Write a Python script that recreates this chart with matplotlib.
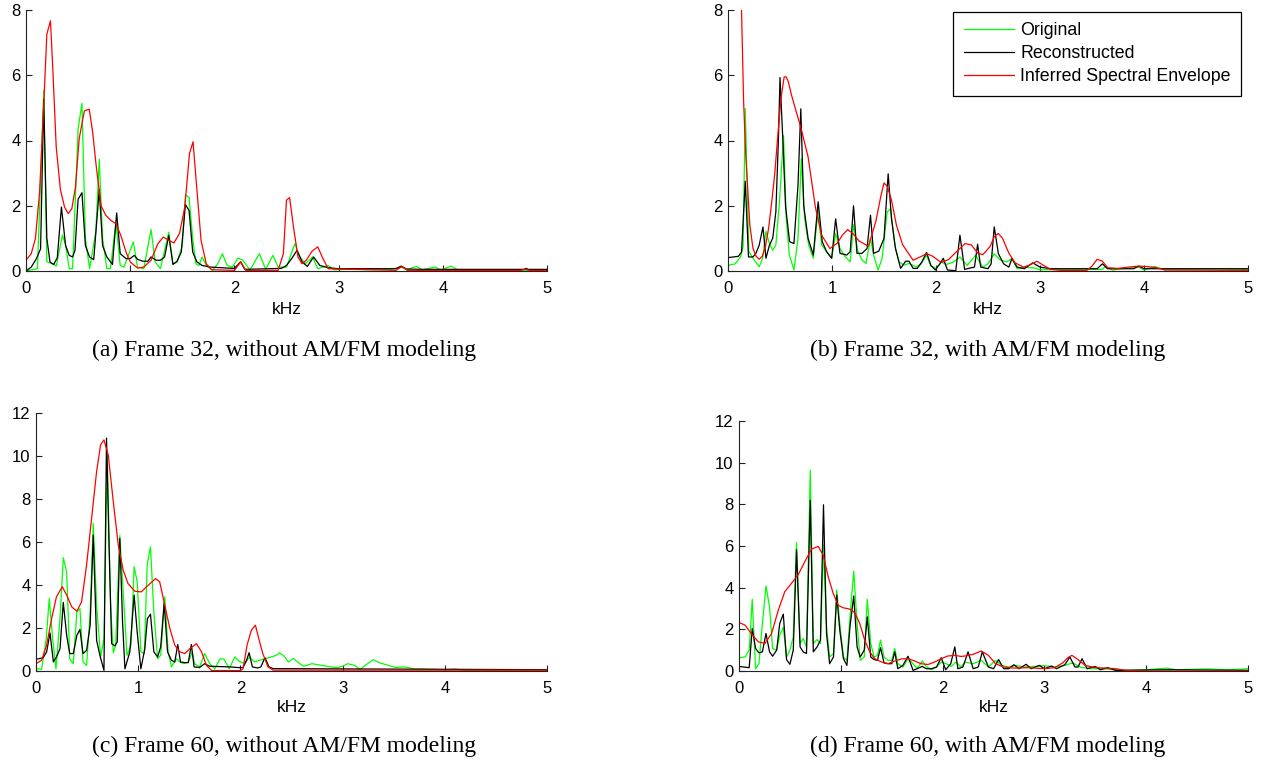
import matplotlib
matplotlib.use("Agg")
import matplotlib.pyplot as plt

# ---------------- data: (kHz, magnitude) ----------------
# (a) Frame 32, without AM/FM modeling
a_original = [(0, 0), (0.11, 0.07), (0.17, 5.53), (0.2, 0.28), (0.255, 0.22), (0.29, 0.15), (0.35, 1.1),
              (0.38, 0.8), (0.415, 0.07), (0.447, 0.07), (0.5, 4.35), (0.537, 5.14), (0.57, 1.0), (0.61, 0.07),
              (0.67, 1.2), (0.703, 3.43), (0.735, 1.0), (0.776, 0.07), (0.81, 0.07), (0.863, 1.5), (0.904, 0.17),
              (0.94, 0.12), (1.03, 0.89), (1.07, 0.12), (1.13, 0.07), (1.2, 1.27), (1.24, 0.28), (1.29, 0.07),
              (1.37, 1.19), (1.41, 0.22), (1.45, 0.27), (1.5, 0.78), (1.53, 2.33), (1.565, 2.26), (1.6, 1.0),
              (1.63, 0.22), (1.66, 0.17), (1.69, 0.43), (1.73, 0.17), (1.79, 0.02), (1.84, 0.22), (1.885, 0.53),
              (1.93, 0.17), (1.98, 0.12), (2.035, 0.4), (2.08, 0.33), (2.15, 0.03), (2.24, 0.53), (2.3, 0.05),
              (2.37, 0.48), (2.42, 0.12), (2.5, 0.12), (2.58, 0.84), (2.63, 0.43), (2.68, 0.22), (2.75, 0.43),
              (2.8, 0.07), (2.9, 0.17), (2.95, 0.04), (3.1, 0.05), (3.3, 0.04), (3.5, 0.05), (3.6, 0.12),
              (3.65, 0.04), (3.75, 0.14), (3.8, 0.04), (3.93, 0.12), (3.98, 0.03), (4.08, 0.15), (4.15, 0.02),
              (4.5, 0.02), (5.0, 0.02)]
a_reconstructed = [(0, 0), (0.05, 0.12), (0.1, 0.38), (0.14, 0.68), (0.17, 5.27), (0.2, 1.0), (0.23, 0.28),
                   (0.265, 0.2), (0.3, 0.4), (0.34, 1.96), (0.38, 0.78), (0.415, 0.48), (0.447, 0.43),
                   (0.47, 0.63), (0.5, 2.2), (0.537, 2.4), (0.57, 0.78), (0.61, 0.43), (0.65, 0.35),
                   (0.703, 2.5), (0.735, 0.78), (0.776, 0.43), (0.83, 0.2), (0.87, 1.78), (0.904, 0.53),
                   (0.96, 0.38), (1.0, 0.38), (1.04, 0.48), (1.07, 0.36), (1.12, 0.3), (1.17, 0.3), (1.2, 0.43),
                   (1.25, 0.33), (1.29, 0.33), (1.33, 0.43), (1.37, 1.09), (1.41, 0.2), (1.45, 0.3), (1.49, 0.58),
                   (1.53, 2.04), (1.565, 1.85), (1.6, 0.58), (1.64, 0.28), (1.69, 0.17), (1.77, 0.12),
                   (1.93, 0.09), (2.0, 0.08), (2.06, 0.28), (2.1, 0.05), (2.45, 0.08), (2.5, 0.17), (2.55, 0.38),
                   (2.6, 0.63), (2.65, 0.28), (2.7, 0.14), (2.76, 0.43), (2.82, 0.17), (2.9, 0.1), (3.0, 0.07),
                   (3.55, 0.07), (3.6, 0.15), (3.65, 0.06), (3.8, 0.05), (4.78, 0.05), (4.8, 0.08), (4.82, 0.05),
                   (5.0, 0.05)]
a_envelope = [(0, 0.33), (0.05, 0.53), (0.09, 0.99), (0.13, 2.4), (0.17, 5.08), (0.2, 7.26), (0.235, 7.67),
              (0.26, 6.0), (0.29, 3.8), (0.33, 2.5), (0.37, 1.96), (0.405, 1.76), (0.44, 1.91), (0.475, 2.58),
              (0.51, 4.05), (0.56, 4.91), (0.607, 4.96), (0.64, 4.25), (0.67, 3.33), (0.72, 2.0), (0.767, 1.7),
              (0.815, 1.55), (0.863, 1.45), (0.91, 1.09), (0.96, 0.58), (1.0, 0.28), (1.07, 0.09), (1.13, 0.12),
              (1.2, 0.33), (1.266, 0.84), (1.318, 1.04), (1.37, 0.94), (1.42, 0.86), (1.473, 1.15),
              (1.524, 1.96), (1.569, 3.6), (1.603, 3.96), (1.638, 2.58), (1.68, 0.94), (1.73, 0.22),
              (1.78, 0.04), (2.0, 0.02), (2.06, 0.28), (2.11, 0.02), (2.42, 0.02), (2.47, 0.53), (2.5, 2.17),
              (2.53, 2.25), (2.567, 1.35), (2.61, 0.43), (2.65, 0.22), (2.69, 0.33), (2.746, 0.61),
              (2.8, 0.74), (2.85, 0.38), (2.9, 0.07), (3.55, 0.02), (3.61, 0.14), (3.66, 0.02), (4.75, 0.02),
              (4.79, 0.06), (4.83, 0.02), (5.0, 0.02)]

# (b) Frame 32, with AM/FM modeling
b_original = [(0, 0.17), (0.07, 0.22), (0.12, 0.43), (0.145, 0.74), (0.166, 4.98), (0.2, 0.59), (0.252, 0.34),
              (0.3, 0.13), (0.333, 0.39), (0.365, 1.22), (0.398, 0.84), (0.43, 0.64), (0.46, 0.79),
              (0.495, 2.12), (0.534, 4.15), (0.56, 1.6), (0.59, 0.49), (0.634, 0.03), (0.673, 1.0),
              (0.705, 3.44), (0.737, 1.6), (0.776, 0.79), (0.82, 0.39), (0.865, 1.85), (0.9, 0.8),
              (0.948, 0.59), (0.997, 0.39), (1.035, 1.15), (1.077, 0.69), (1.126, 0.44), (1.175, 0.28),
              (1.207, 1.42), (1.25, 0.59), (1.288, 0.34), (1.327, 0.23), (1.37, 1.0), (1.4, 0.49),
              (1.443, 0.03), (1.482, 0.39), (1.53, 1.81), (1.563, 1.91), (1.605, 0.79), (1.644, 0.28),
              (1.692, 0.18), (1.74, 0.23), (1.806, 0.13), (1.854, 0.2), (1.909, 0.49), (1.95, 0.15),
              (2.0, 0.08), (2.05, 0.28), (2.097, 0.2), (2.16, 0.26), (2.23, 0.43), (2.3, 0.17), (2.38, 0.48),
              (2.45, 0.12), (2.5, 0.22), (2.56, 0.53), (2.62, 0.33), (2.68, 0.28), (2.73, 0.38), (2.78, 0.07),
              (2.85, 0.12), (2.95, 0.09), (3.0, 0.04), (3.6, 0.05), (3.62, 0.12), (3.7, 0.03), (3.78, 0.07),
              (3.9, 0.1), (3.95, 0.12), (4.0, 0.03), (4.1, 0.14), (4.2, 0.04), (4.7, 0.06), (5.0, 0.04)]
b_reconstructed = [(0, 0.41), (0.1, 0.45), (0.13, 0.58), (0.166, 2.75), (0.197, 0.43), (0.24, 0.43),
                   (0.268, 0.54), (0.3, 0.79), (0.336, 1.35), (0.365, 0.39), (0.398, 0.79), (0.43, 1.0),
                   (0.46, 1.81), (0.485, 4.05), (0.5, 5.93), (0.527, 4.05), (0.553, 2.0), (0.592, 0.9),
                   (0.634, 0.84), (0.673, 2.63), (0.7, 4.97), (0.728, 2.0), (0.77, 1.0), (0.82, 0.49),
                   (0.867, 2.12), (0.906, 0.9), (0.948, 0.59), (0.997, 0.39), (1.035, 1.6), (1.077, 0.54),
                   (1.142, 0.49), (1.175, 0.59), (1.207, 2.0), (1.24, 0.54), (1.288, 0.54), (1.337, 0.69),
                   (1.37, 1.71), (1.4, 0.54), (1.45, 0.61), (1.5, 1.0), (1.54, 2.98), (1.572, 1.6),
                   (1.61, 0.69), (1.66, 0.08), (1.708, 0.3), (1.74, 0.3), (1.78, 0.08), (1.82, 0.08),
                   (1.864, 0.28), (1.909, 0.57), (1.95, 0.18), (1.993, 0.03), (2.04, 0.23), (2.07, 0.39),
                   (2.11, 0.03), (2.19, 0.01), (2.23, 1.1), (2.275, 0.05), (2.3, 0.07), (2.37, 0.12),
                   (2.4, 0.82), (2.43, 0.12), (2.5, 0.07), (2.53, 0.22), (2.56, 1.35), (2.6, 0.53),
                   (2.65, 0.22), (2.7, 0.12), (2.73, 0.38), (2.78, 0.12), (2.85, 0.07), (2.93, 0.25),
                   (3.0, 0.12), (3.1, 0.07), (3.55, 0.07), (3.6, 0.22), (3.65, 0.07), (3.9, 0.07),
                   (3.95, 0.15), (4.0, 0.07), (5.0, 0.07)]
b_envelope = [(0, 20.0), (0.1, 12.0), (0.12, 9.0), (0.13, 8.0), (0.15, 5.2), (0.17, 3.6), (0.19, 2.5),
              (0.21, 1.4), (0.24, 0.7), (0.27, 0.45), (0.3, 0.36), (0.33, 0.45), (0.36, 0.75), (0.39, 1.3),
              (0.42, 2.1), (0.45, 3.0), (0.48, 4.2), (0.51, 5.3), (0.54, 5.95), (0.56, 5.95), (0.58, 5.8),
              (0.61, 5.4), (0.65, 4.95), (0.7, 4.4), (0.77, 3.5), (0.84, 1.96), (0.9, 1.1), (0.98, 0.69),
              (1.05, 0.85), (1.1, 1.1), (1.15, 1.27), (1.2, 1.15), (1.26, 0.92), (1.35, 0.76), (1.42, 1.5),
              (1.47, 2.3), (1.5, 2.7), (1.53, 2.6), (1.57, 2.2), (1.62, 1.4), (1.68, 0.8), (1.78, 0.33),
              (1.86, 0.45), (1.91, 0.53), (1.97, 0.45), (2.05, 0.26), (2.12, 0.35), (2.2, 0.6), (2.28, 0.84),
              (2.34, 0.8), (2.4, 0.55), (2.45, 0.5), (2.52, 0.75), (2.56, 1.05), (2.6, 1.15), (2.64, 1.0),
              (2.7, 0.55), (2.76, 0.25), (2.84, 0.12), (2.9, 0.18), (2.97, 0.3), (3.02, 0.2), (3.1, 0.05),
              (3.2, 0.02), (3.45, 0.02), (3.5, 0.15), (3.55, 0.36), (3.6, 0.3), (3.65, 0.1), (3.75, 0.08),
              (3.85, 0.12), (3.95, 0.15), (4.05, 0.13), (4.12, 0.1), (4.2, 0.03), (5.0, 0.02)]

# (c) Frame 60, without AM/FM modeling
c_original = [(0, 0.1), (0.055, 0.08), (0.1, 1.5), (0.13, 3.37), (0.163, 1.5), (0.195, 0.1), (0.235, 2.44),
              (0.267, 5.27), (0.3, 4.6), (0.33, 0.57), (0.365, 0.34), (0.4, 2.75), (0.43, 2.9), (0.46, 0.42),
              (0.495, 0.26), (0.53, 2.75), (0.56, 6.87), (0.593, 3.06), (0.632, 0.65), (0.665, 1.5),
              (0.697, 10.05), (0.73, 3.06), (0.756, 0.85), (0.78, 1.2), (0.82, 6.3), (0.853, 3.7),
              (0.89, 0.73), (0.93, 1.2), (0.96, 4.85), (0.99, 4.15), (1.026, 0.89), (1.06, 0.81),
              (1.088, 4.93), (1.12, 5.78), (1.153, 2.75), (1.19, 0.57), (1.22, 0.73), (1.26, 3.45),
              (1.293, 0.89), (1.325, 0.19), (1.375, 0.57), (1.407, 0.42), (1.446, 0.34), (1.49, 0.42),
              (1.53, 0.89), (1.55, 0.34), (1.6, 0.19), (1.65, 0.81), (1.7, 0.34), (1.75, 0.1), (1.8, 0.57),
              (1.84, 0.55), (1.89, 0.1), (1.945, 0.65), (1.99, 0.45), (2.04, 0.34), (2.09, 0.65),
              (2.14, 0.42), (2.19, 0.5), (2.25, 0.58), (2.3, 0.65), (2.35, 0.73), (2.38, 0.84), (2.42, 0.73),
              (2.47, 0.42), (2.52, 0.58), (2.58, 0.34), (2.62, 0.22), (2.7, 0.34), (2.8, 0.26), (2.88, 0.19),
              (2.95, 0.16), (3.0, 0.22), (3.05, 0.34), (3.12, 0.26), (3.17, 0.06), (3.22, 0.26), (3.3, 0.53),
              (3.37, 0.37), (3.45, 0.26), (3.52, 0.16), (3.6, 0.19), (3.7, 0.1), (3.8, 0.09), (4.0, 0.06),
              (4.1, 0.09), (4.2, 0.03), (5.0, 0.03)]
c_reconstructed = [(0, 0.54), (0.07, 0.62), (0.104, 0.89), (0.137, 1.77), (0.17, 0.42), (0.2, 0.65),
                   (0.235, 1.04), (0.267, 3.19), (0.3, 1.66), (0.33, 0.81), (0.365, 0.81), (0.4, 1.66),
                   (0.43, 1.93), (0.46, 0.81), (0.495, 0.96), (0.53, 2.13), (0.56, 6.32), (0.593, 1.43),
                   (0.625, 0.73), (0.665, 0.03), (0.69, 10.83), (0.717, 5.4), (0.74, 1.27), (0.772, 1.17),
                   (0.795, 1.35), (0.82, 6.17), (0.847, 2.28), (0.87, 0.1), (0.918, 0.89), (0.96, 3.53),
                   (0.99, 1.82), (1.026, 0.1), (1.065, 1.04), (1.09, 2.44), (1.12, 2.64), (1.153, 0.89),
                   (1.19, 0.65), (1.22, 1.12), (1.254, 3.17), (1.287, 0.89), (1.325, 0.5), (1.358, 0.42),
                   (1.387, 1.23), (1.414, 0.42), (1.456, 0.39), (1.49, 0.39), (1.52, 1.23), (1.547, 0.19),
                   (1.6, 0.16), (1.65, 0.34), (1.7, 0.22), (1.9, 0.19), (1.977, 0.16), (2.026, 0.16),
                   (2.06, 0.5), (2.085, 0.85), (2.117, 0.19), (2.17, 0.14), (2.2, 0.19), (2.24, 0.62),
                   (2.28, 0.19), (2.32, 0.11), (5.0, 0.06)]
c_envelope = [(0, 0.34), (0.055, 0.5), (0.104, 1.2), (0.153, 2.44), (0.2, 3.45), (0.257, 3.92), (0.3, 3.53),
              (0.35, 2.98), (0.4, 2.78), (0.446, 3.22), (0.495, 4.93), (0.544, 7.1), (0.593, 9.28),
              (0.632, 10.52), (0.665, 10.75), (0.707, 10.05), (0.756, 7.88), (0.805, 5.86), (0.853, 4.69),
              (0.9, 4.07), (0.967, 3.71), (1.03, 3.68), (1.098, 3.99), (1.17, 4.3), (1.21, 4.15),
              (1.26, 3.06), (1.31, 1.97), (1.358, 1.2), (1.407, 0.89), (1.456, 0.81), (1.505, 1.04),
              (1.57, 1.27), (1.62, 0.89), (1.668, 0.26), (1.717, 0.03), (1.75, 0.02), (2.0, 0.02),
              (2.026, 0.1), (2.065, 1.2), (2.107, 1.9), (2.147, 2.13), (2.18, 1.5), (2.22, 0.8),
              (2.27, 0.19), (2.32, 0.04), (5.0, 0.04)]

# (d) Frame 60, with AM/FM modeling
d_original = [(0, 0.64), (0.06, 0.67), (0.1, 1.0), (0.13, 3.44), (0.163, 0.11), (0.196, 0.35), (0.23, 2.28),
              (0.265, 4.08), (0.3, 3.08), (0.33, 1.08), (0.37, 1.0), (0.4, 1.72), (0.435, 2.09), (0.467, 0.67),
              (0.5, 1.0), (0.533, 1.64), (0.565, 6.17), (0.6, 1.32), (0.63, 1.56), (0.663, 1.16), (0.7, 9.64),
              (0.73, 1.32), (0.768, 1.51), (0.8, 1.32), (0.83, 6.06), (0.86, 2.12), (0.89, 0.67),
              (0.928, 0.84), (0.96, 3.89), (0.99, 2.28), (1.026, 0.67), (1.06, 0.51), (1.09, 2.6),
              (1.127, 4.79), (1.16, 2.28), (1.19, 0.51), (1.23, 0.67), (1.26, 3.44), (1.294, 1.32),
              (1.327, 0.67), (1.36, 0.75), (1.39, 1.48), (1.425, 0.67), (1.464, 0.51), (1.5, 0.51),
              (1.53, 1.08), (1.56, 0.35), (1.61, 0.19), (1.66, 0.59), (1.71, 0.35), (1.75, 0.11), (1.8, 0.48),
              (1.84, 0.22), (1.89, 0.06), (1.94, 0.19), (1.987, 0.43), (2.036, 0.35), (2.085, 0.22),
              (2.13, 0.43), (2.18, 0.19), (2.22, 0.43), (2.3, 0.35), (2.38, 0.51), (2.45, 0.19), (2.52, 0.51),
              (2.58, 0.27), (2.65, 0.19), (2.72, 0.27), (2.8, 0.19), (2.9, 0.22), (3.0, 0.26), (3.1, 0.19),
              (3.2, 0.27), (3.28, 0.39), (3.35, 0.19), (3.45, 0.11), (3.6, 0.1), (3.7, 0.06), (3.8, 0.03),
              (4.0, 0.06), (4.1, 0.1), (4.2, 0.14), (4.3, 0.06), (4.6, 0.1), (4.8, 0.06), (5.0, 0.11)]
d_reconstructed = [(0, 0.22), (0.1, 0.16), (0.13, 2.04), (0.163, 1.08), (0.196, 0.87), (0.23, 0.92),
                   (0.265, 1.8), (0.3, 0.92), (0.33, 0.71), (0.37, 1.0), (0.4, 2.28), (0.435, 2.73),
                   (0.467, 0.55), (0.5, 0.32), (0.533, 1.0), (0.565, 5.82), (0.6, 1.16), (0.63, 0.92),
                   (0.663, 0.84), (0.7, 8.19), (0.73, 0.92), (0.768, 1.16), (0.8, 1.48), (0.83, 7.98),
                   (0.86, 1.8), (0.89, 0.35), (0.928, 0.67), (0.96, 3.65), (0.99, 1.96), (1.026, 0.59),
                   (1.06, 0.27), (1.09, 2.12), (1.127, 3.6), (1.16, 1.16), (1.19, 0.67), (1.23, 1.0),
                   (1.26, 2.6), (1.294, 0.67), (1.327, 0.55), (1.36, 0.51), (1.39, 1.12), (1.425, 0.39),
                   (1.464, 0.35), (1.5, 0.35), (1.53, 0.92), (1.56, 0.11), (1.61, 0.27), (1.66, 0.71),
                   (1.71, 0.03), (1.75, 0.11), (1.8, 0.22), (1.84, 0.11), (1.89, 0.11), (1.94, 0.19),
                   (1.987, 0.64), (2.03, 0.06), (2.08, 0.35), (2.12, 1.16), (2.15, 0.11), (2.2, 0.19),
                   (2.25, 0.92), (2.3, 0.11), (2.35, 0.19), (2.39, 0.92), (2.45, 0.19), (2.5, 0.11),
                   (2.55, 0.55), (2.6, 0.11), (2.65, 0.11), (2.7, 0.3), (2.75, 0.11), (2.82, 0.32),
                   (2.87, 0.11), (2.95, 0.27), (3.0, 0.11), (3.07, 0.24), (3.12, 0.11), (3.2, 0.3),
                   (3.25, 0.67), (3.3, 0.19), (3.33, 0.19), (3.37, 0.59), (3.42, 0.11), (3.5, 0.22),
                   (3.55, 0.06), (3.62, 0.16), (3.7, 0.03), (4.2, 0.06), (5.0, 0.03)]
d_envelope = [(0, 2.33), (0.06, 2.2), (0.124, 1.77), (0.19, 1.4), (0.255, 1.32), (0.32, 1.8), (0.386, 2.92),
              (0.45, 3.81), (0.516, 4.21), (0.58, 4.61), (0.647, 5.25), (0.712, 5.85), (0.778, 5.98),
              (0.827, 5.57), (0.876, 4.53), (0.925, 3.73), (0.974, 3.16), (1.02, 3.04), (1.088, 2.97),
              (1.137, 2.8), (1.186, 2.28), (1.235, 1.48), (1.284, 0.92), (1.333, 0.59), (1.4, 0.43),
              (1.464, 0.35), (1.53, 0.48), (1.595, 0.58), (1.66, 0.59), (1.725, 0.48), (1.79, 0.35),
              (1.856, 0.31), (1.92, 0.43), (1.987, 0.59), (2.05, 0.72), (2.12, 0.75), (2.18, 0.7),
              (2.22, 0.72), (2.3, 0.8), (2.38, 0.96), (2.45, 0.75), (2.52, 0.35), (2.6, 0.19), (2.7, 0.14),
              (2.85, 0.16), (3.0, 0.11), (3.1, 0.16), (3.18, 0.39), (3.23, 0.64), (3.27, 0.75), (3.32, 0.59),
              (3.4, 0.27), (3.5, 0.16), (3.6, 0.14), (3.7, 0.11), (3.8, 0.03), (4.0, 0.0), (5.0, 0.0)]

series_labels = ["Original", "Reconstructed", "Inferred Spectral Envelope"]
series_colors = ["#00ff00", "#000000", "#ff0000"]
captions = ["(a) Frame 32, without AM/FM modeling", "(b) Frame 32, with AM/FM modeling",
            "(c) Frame 60, without AM/FM modeling", "(d) Frame 60, with AM/FM modeling"]
x_ticks = [0, 1, 2, 3, 4, 5]
y_ticks_32 = [0, 2, 4, 6, 8]
y_ticks_60 = [0, 2, 4, 6, 8, 10, 12]
xlabel = "kHz"

# ---------------- figure ----------------
W, H = 1263, 761
fig = plt.figure(figsize=(W / 100, H / 100), dpi=100)
SANS = ["Liberation Sans", "DejaVu Sans"]
SERIF = ["Liberation Serif", "DejaVu Serif"]
FS_TICK = 12.0
FS_LAB = 12.5
FS_LEG = 12.8
FS_CAP = 17.0


def rect(l, r, t, b):
    return [l / W, 1 - b / H, (r - l) / W, (b - t) / H]


panels = [
    (rect(26, 547, 10, 271), [a_original, a_reconstructed, a_envelope], y_ticks_32, False),
    (rect(728, 1248, 10, 271), [b_original, b_reconstructed, b_envelope], y_ticks_32, True),
    (rect(36, 547, 413, 671), [c_original, c_reconstructed, c_envelope], y_ticks_60, False),
    (rect(739, 1248, 421, 671), [d_original, d_reconstructed, d_envelope], y_ticks_60, False),
]
cap_pos = [(284, 356), (988, 356), (284, 752), (988, 752)]
xlab_y = [309, 309, 708, 708]

for i, (r, data, yt, with_legend) in enumerate(panels):
    ax = fig.add_axes(r)
    for d, lab, col in zip(data, series_labels, series_colors):
        xs = [p[0] for p in d]
        ys = [p[1] for p in d]
        ax.plot(xs, ys, color=col, lw=0.9, label=lab)
    ax.set_xlim(0, 5)
    ax.set_ylim(0, yt[-1])
    ax.set_xticks(x_ticks)
    ax.set_yticks(yt)
    for s in ("top", "right"):
        ax.spines[s].set_visible(False)
    for s in ("left", "bottom"):
        ax.spines[s].set_linewidth(0.8)
        ax.spines[s].set_color("#222222")
    ax.tick_params(direction="in", length=4, width=0.8, colors="#222222")
    ax.tick_params(axis="x", pad=7.5)
    ax.tick_params(axis="y", pad=4)
    for lbl in ax.get_xticklabels() + ax.get_yticklabels():
        lbl.set_fontfamily(SANS)
        lbl.set_fontsize(FS_TICK)
        lbl.set_color("black")
    cx = (r[0] + r[2] / 2)
    fig.text(cx, 1 - xlab_y[i] / H, xlabel, ha="center", va="center", fontsize=FS_LAB, family=SANS)
    if with_legend:
        leg = ax.legend(loc="upper right", bbox_to_anchor=(0.987, 0.993), borderaxespad=0,
                        prop={"family": SANS, "size": FS_LEG}, fancybox=False, framealpha=1,
                        edgecolor="black", handlelength=2.8, handletextpad=0.35,
                        labelspacing=0.32, borderpad=0.6)
        leg.get_frame().set_linewidth(0.9)
    fig.text(cap_pos[i][0] / W, 1 - cap_pos[i][1] / H, captions[i], ha="center", va="baseline",
             fontsize=FS_CAP, family=SERIF)

fig.savefig("out.png", dpi=100)
